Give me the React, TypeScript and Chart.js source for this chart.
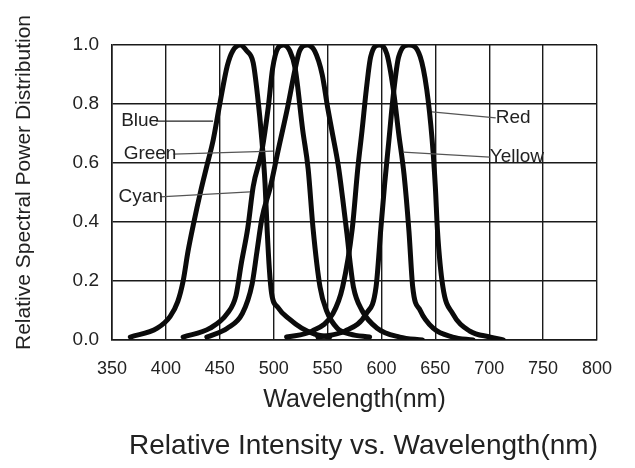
import React, { useEffect, useRef } from "react";
import { Chart, registerables } from "chart.js";

Chart.register(...registerables);

const FONT = '"Liberation Sans", Arial, Helvetica, sans-serif';

// Axis ticks
const xTickValues = [350, 400, 450, 500, 550, 600, 650, 700, 750, 800];
const yTickValues = [0, 0.2, 0.4, 0.6, 0.8, 1.0];

// Series (wavelength in nm, relative power)
const blueNm = [367, 392, 404, 411, 416, 420.5, 426, 432, 438, 444, 450, 457, 462, 469, 475, 481, 485, 489, 492, 494, 496, 498, 504, 515, 526, 538, 552];
const blueVal = [0.01, 0.04, 0.08, 0.13, 0.2, 0.3, 0.4, 0.5, 0.59, 0.68, 0.8, 0.93, 0.98, 1.0, 0.98, 0.94, 0.83, 0.68, 0.53, 0.37, 0.24, 0.16, 0.11, 0.07, 0.04, 0.02, 0.01];

const cyanNm = [416, 441, 457, 465, 470, 476, 481, 489, 495, 499, 504, 509, 515, 520, 527, 532, 536.5, 543, 549, 559, 571, 589];
const cyanVal = [0.01, 0.04, 0.09, 0.15, 0.26, 0.38, 0.52, 0.64, 0.79, 0.92, 0.99, 1.0, 0.98, 0.92, 0.71, 0.58, 0.38, 0.18, 0.1, 0.04, 0.02, 0.01];

const greenNm = [438, 457, 471, 480, 484.5, 489, 497, 504, 513, 520, 524, 531, 538, 545, 550, 554, 560, 564, 568, 571, 574, 582, 596, 617, 638];
const greenVal = [0.01, 0.04, 0.09, 0.19, 0.3, 0.41, 0.52, 0.64, 0.79, 0.92, 0.98, 1.0, 0.98, 0.9, 0.79, 0.71, 0.59, 0.48, 0.36, 0.26, 0.18, 0.1, 0.04, 0.01, 0.0];

const yellowNm = [512, 535.5, 555, 564, 573, 578, 582, 586, 590, 598, 605, 611, 616, 621, 625.5, 629, 636, 648, 666, 685];
const yellowVal = [0.01, 0.03, 0.09, 0.18, 0.38, 0.58, 0.71, 0.85, 0.96, 1.0, 0.97, 0.85, 0.7, 0.56, 0.37, 0.18, 0.1, 0.04, 0.01, 0.0];

const redNm = [541, 566, 586, 595, 599.5, 603, 607, 611, 616, 625.5, 636, 642, 647, 650, 652, 657, 666, 682, 701, 713];
const redVal = [0.01, 0.03, 0.09, 0.18, 0.38, 0.53, 0.68, 0.83, 0.96, 1.0, 0.96, 0.85, 0.68, 0.52, 0.37, 0.18, 0.09, 0.03, 0.01, 0.0];

// Curve callouts (label, line start near text, line end on curve)
const calloutNames = ["Blue", "Green", "Cyan", "Red", "Yellow"];
const calloutStartNm = [391, 407, 394.5, 706, 700.6];
const calloutStartVal = [0.742, 0.63, 0.485, 0.753, 0.62];
const calloutEndNm = [443.7, 499.4, 478, 646.8, 620];
const calloutEndVal = [0.742, 0.64, 0.502, 0.773, 0.637];
const calloutSide = ["left", "left", "left", "right", "right"];

const xTitle = "Wavelength(nm)";
const yTitle = "Relative Spectral Power Distribution";
const caption = "Relative Intensity vs. Wavelength(nm)";

const seriesNm = [blueNm, cyanNm, greenNm, yellowNm, redNm];
const seriesVal = [blueVal, cyanVal, greenVal, yellowVal, redVal];
const seriesNames = ["Blue", "Cyan", "Green", "Yellow", "Red"];

export default function App() {
  const ref = useRef<HTMLCanvasElement>(null);

  useEffect(() => {
    const canvas = ref.current;
    if (!canvas) return;

    const overlay = {
      id: "overlay",
      afterDatasetsDraw(chart: any) {
        const { ctx, scales } = chart;
        const x = scales.x;
        const y = scales.y;
        ctx.save();
        ctx.font = `19px ${FONT}`;
        ctx.textBaseline = "middle";
        calloutNames.forEach((name, i) => {
          const x1 = x.getPixelForValue(calloutStartNm[i]);
          const y1 = y.getPixelForValue(calloutStartVal[i]);
          const x2 = x.getPixelForValue(calloutEndNm[i]);
          const y2 = y.getPixelForValue(calloutEndVal[i]);
          ctx.strokeStyle = i === 0 ? "#222" : "#555";
          ctx.lineWidth = 1.3;
          ctx.beginPath();
          ctx.moveTo(x1, y1);
          ctx.lineTo(x2, y2);
          ctx.stroke();
          ctx.fillStyle = "#222";
          if (calloutSide[i] === "left") {
            ctx.textAlign = "right";
            ctx.fillText(name, x1 + 3, y1);
          } else {
            ctx.textAlign = "left";
            ctx.fillText(name, x1, y1);
          }
        });
        ctx.restore();
      },
      afterDraw(chart: any) {
        const { ctx, chartArea } = chart;
        ctx.save();
        ctx.fillStyle = "#222";
        ctx.textAlign = "center";
        ctx.textBaseline = "middle";
        // y-axis title
        ctx.font = `21px ${FONT}`;
        ctx.translate(24, (chartArea.top + chartArea.bottom) / 2 - 10);
        ctx.rotate(-Math.PI / 2);
        ctx.fillText(yTitle, 0, 0);
        ctx.restore();
        ctx.save();
        ctx.fillStyle = "#222";
        ctx.textAlign = "center";
        ctx.textBaseline = "middle";
        ctx.font = `28px ${FONT}`;
        ctx.fillText(caption, (chartArea.left + chartArea.right) / 2 + 9, chart.height - 22);
        ctx.restore();
      },
    };

    const chart = new Chart(canvas, {
      type: "line",
      data: {
        datasets: seriesNm.map((nm, si) => ({
          label: seriesNames[si],
          data: nm.map((v, i) => ({ x: v, y: seriesVal[si][i] })),
          borderColor: "#0b0b0b",
          borderWidth: 5,
          pointRadius: 0,
          fill: false,
          cubicInterpolationMode: "monotone" as const,
          borderCapStyle: "round" as const,
          borderJoinStyle: "round" as const,
        })),
      },
      options: {
        animation: false,
        responsive: false,
        maintainAspectRatio: false,
        layout: { padding: { left: 0, top: 45, right: 38, bottom: 0 } },
        plugins: {
          legend: { display: false },
          tooltip: { enabled: false },
          title: { display: false },
        },
        scales: {
          x: {
            type: "linear",
            min: 350,
            max: 800,
            afterBuildTicks: (s: any) => {
              s.ticks = xTickValues.map((v) => ({ value: v }));
            },
            afterFit: (s: any) => {
              s.height = 128;
            },
            grid: { color: "#1a1a1a", lineWidth: 1.4, drawTicks: false },
            border: { color: "#1a1a1a", width: 1.6 },
            ticks: {
              padding: 18,
              color: "#222",
              font: { family: FONT, size: 18 },
              maxRotation: 0,
              autoSkip: false,
              callback: (v: any) => String(v),
            },
            title: {
              display: true,
              text: xTitle,
              color: "#222",
              font: { family: FONT, size: 25 },
              padding: { top: 0, bottom: 53 },
            },
          },
          y: {
            type: "linear",
            min: 0,
            max: 1,
            afterBuildTicks: (s: any) => {
              s.ticks = yTickValues.map((v) => ({ value: v }));
            },
            afterFit: (s: any) => {
              s.width = 112;
            },
            grid: { color: "#1a1a1a", lineWidth: 1.4, drawTicks: false },
            border: { color: "#1a1a1a", width: 1.6 },
            ticks: {
              padding: 13,
              color: "#222",
              font: { family: FONT, size: 19 },
              callback: (v: any) => Number(v).toFixed(1),
            },
          },
        },
      },
      plugins: [overlay],
    });

    return () => chart.destroy();
  }, []);

  return (
    <div style={{ position: "fixed", left: 0, top: 0, width: 635, height: 468, background: "#fff" }}>
      <canvas ref={ref} width={635} height={468} style={{ display: "block", width: 635, height: 468 }} />
    </div>
  );
}
